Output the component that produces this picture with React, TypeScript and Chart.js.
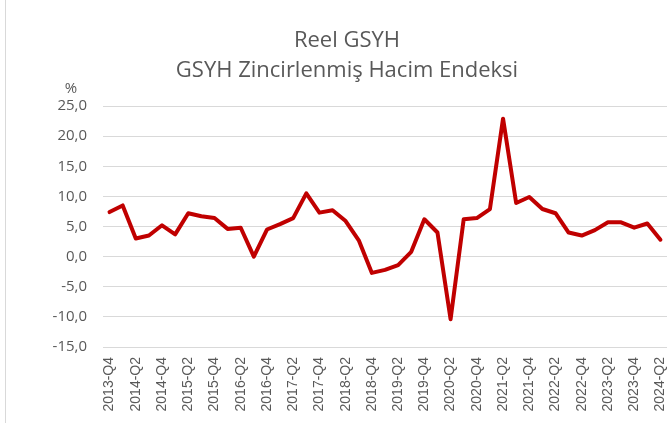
import React, { useEffect, useRef } from "react";
import { Chart, registerables } from "chart.js";

Chart.register(...registerables);

const titleLines = ["Reel GSYH", "GSYH Zincirlenmiş Hacim Endeksi"];
const unitLabel = "%";

const quarters = [
  "2013-Q4",
  "2014-Q1", "2014-Q2", "2014-Q3", "2014-Q4",
  "2015-Q1", "2015-Q2", "2015-Q3", "2015-Q4",
  "2016-Q1", "2016-Q2", "2016-Q3", "2016-Q4",
  "2017-Q1", "2017-Q2", "2017-Q3", "2017-Q4",
  "2018-Q1", "2018-Q2", "2018-Q3", "2018-Q4",
  "2019-Q1", "2019-Q2", "2019-Q3", "2019-Q4",
  "2020-Q1", "2020-Q2", "2020-Q3", "2020-Q4",
  "2021-Q1", "2021-Q2", "2021-Q3", "2021-Q4",
  "2022-Q1", "2022-Q2", "2022-Q3", "2022-Q4",
  "2023-Q1", "2023-Q2", "2023-Q3", "2023-Q4",
  "2024-Q1", "2024-Q2",
];

const growth = [
  7.4, 8.5, 3.0, 3.5, 5.2, 3.7, 7.2, 6.7, 6.4, 4.6, 4.8, 0.0, 4.5, 5.4, 6.4,
  10.5, 7.3, 7.7, 5.9, 2.7, -2.7, -2.2, -1.4, 0.8, 6.2, 4.0, -10.4, 6.2, 6.4,
  7.9, 22.9, 8.9, 9.9, 7.9, 7.2, 4.0, 3.5, 4.4, 5.7, 5.7, 4.8, 5.5, 2.8,
];

const yMin = -15;
const yMax = 25;
const yStep = 5;

const TEXT = "#595959";
const GRID = "#d9d9d9";
const LINE = "#C00000";

const decorPlugin = {
  id: "decor",
  afterDraw(chart: any) {
    const ctx = chart.ctx;
    ctx.save();
    ctx.strokeStyle = GRID;
    ctx.lineWidth = 1;
    ctx.beginPath();
    ctx.moveTo(5.5, 0);
    ctx.lineTo(5.5, chart.height);
    ctx.stroke();
    ctx.fillStyle = TEXT;
    ctx.textAlign = "center";
    ctx.textBaseline = "alphabetic";
    ctx.font = "22px 'Open Sans'";
    ctx.fillText(titleLines[0], 347, 47);
    ctx.fillText(titleLines[1], 347, 77);
    const yScale = chart.scales.y;
    ctx.font = "15px 'Open Sans'";
    ctx.textBaseline = "middle";
    ctx.fillText(unitLabel, 71, yScale.getPixelForValue(yMax) - 17);
    ctx.restore();
  },
};

export default function App() {
  const ref = useRef<HTMLCanvasElement | null>(null);

  useEffect(() => {
    if (!ref.current) return;
    const chart = new Chart(ref.current, {
      type: "line",
      data: {
        labels: quarters,
        datasets: [
          {
            data: growth,
            borderColor: LINE,
            backgroundColor: LINE,
            borderWidth: 4,
            pointRadius: 0,
            tension: 0,
            borderJoinStyle: "round",
            borderCapStyle: "round",
          },
        ],
      },
      options: {
        responsive: false,
        animation: false,
        layout: { padding: { top: 106, right: 0, left: 0, bottom: 0 } },
        plugins: {
          legend: { display: false },
          title: { display: false },
          tooltip: { enabled: false },
        },
        scales: {
          x: {
            offset: true,
            grid: { display: false, drawTicks: false },
            border: { display: false },
            ticks: {
              autoSkip: false,
              maxRotation: 90,
              minRotation: 90,
              padding: 10,
              color: TEXT,
              font: { family: "'Liberation Sans', Arial", size: 14 },
              callback: (_v: any, i: number) => (i % 2 === 0 ? quarters[i] : ""),
            },
            afterFit: (s: any) => {
              s.height = 76;
              s.paddingLeft = 0;
              s.paddingRight = 0;
            },
          },
          y: {
            min: yMin,
            max: yMax,
            grid: { color: GRID, lineWidth: 1, drawTicks: false },
            border: { display: false },
            ticks: {
              stepSize: yStep,
              padding: 16,
              color: TEXT,
              font: { family: "'Open Sans'", size: 15 },
              callback: (v: any) => Number(v).toFixed(1).replace(".", ","),
            },
            afterFit: (s: any) => {
              s.width = 103;
            },
          },
        },
      },
      plugins: [decorPlugin],
    });
    return () => chart.destroy();
  }, []);

  return (
    <div style={{ position: "fixed", left: 0, top: 0, width: 667, height: 423, background: "#fff" }}>
      <canvas ref={ref} width={667} height={423} style={{ display: "block" }} />
    </div>
  );
}
